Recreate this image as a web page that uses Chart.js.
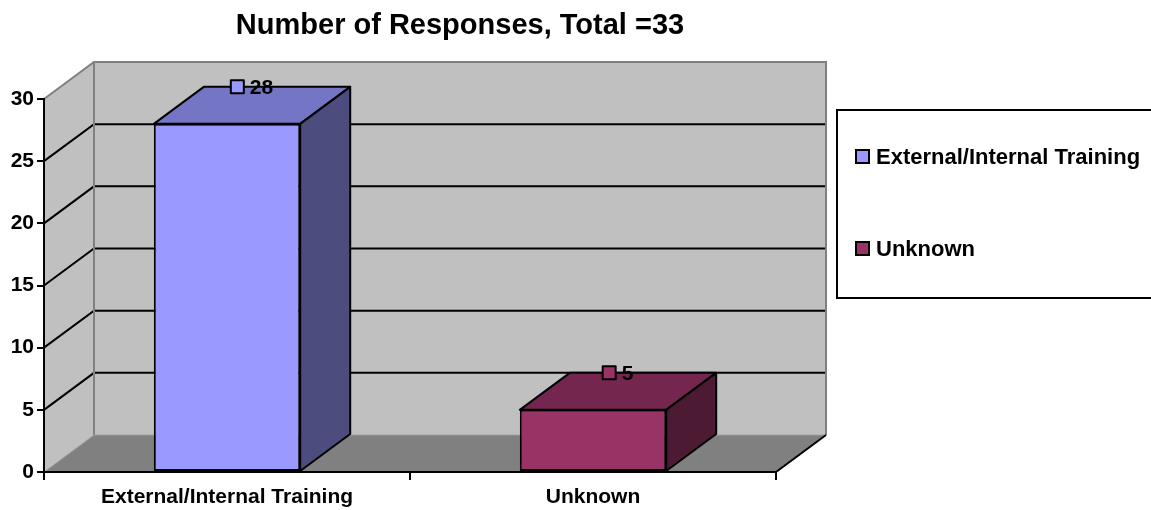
<!DOCTYPE html>
<html>
<head>
<meta charset="utf-8">
<script src="https://cdn.jsdelivr.net/npm/chart.js@4.4.1/dist/chart.umd.min.js"></script>
<style>
html, body { margin: 0; padding: 0; background: #fff; }
#wrap { width: 1151px; height: 510px; position: relative; }
</style>
</head>
<body>
<div id="wrap"><canvas id="responsesChart"></canvas></div>
<script>
const categories = ['External/Internal Training', 'Unknown'];
const responses = [28, 5];
const yTicks = [0, 5, 10, 15, 20, 25, 30];
const chartTitle = 'Number of Responses, Total =33';

const frontColors = ['#9999ff', '#993366'];
const topColors = ['#7575c5', '#74264f'];
const sideColors = ['#4c4c7f', '#4d1a33'];

// offset of the back plane, gives the 3D look
const DEPTH_X = 50;
const DEPTH_Y = -37;
const FONT = "'Liberation Sans', Arial, sans-serif";

function poly(ctx, pts, fill, stroke)
{
    ctx.beginPath();
    ctx.moveTo(pts[0][0], pts[0][1]);
    for (let i = 1; i < pts.length; i++) ctx.lineTo(pts[i][0], pts[i][1]);
    ctx.closePath();
    ctx.fillStyle = fill;
    ctx.fill();
    if (stroke) ctx.stroke();
}

const walls3d = {
    id: 'walls3d',
    beforeDraw(chart)
    {
        const { ctx, chartArea: a, scales: { y } } = chart;
        const bl = a.left + DEPTH_X, bt = a.top + DEPTH_Y;
        const br = a.right + DEPTH_X, bb = a.bottom + DEPTH_Y;
        ctx.save();

        // back wall, side wall, floor
        ctx.fillStyle = '#c0c0c0';
        ctx.fillRect(bl, bt, br - bl, bb - bt);
        poly(ctx, [[a.left, a.top], [bl, bt], [bl, bb], [a.left, a.bottom]], '#c0c0c0');
        poly(ctx, [[a.left, a.bottom], [a.right, a.bottom], [br, bb], [bl, bb]], '#808080');

        // gridlines run along the side wall and across the back wall
        ctx.strokeStyle = '#000';
        ctx.lineWidth = 2;
        yTicks.forEach(v =>
        {
            if (v === y.min || v === y.max) return;
            const py = y.getPixelForValue(v);
            ctx.beginPath();
            ctx.moveTo(a.left, py);
            ctx.lineTo(bl, py + DEPTH_Y);
            ctx.lineTo(br, py + DEPTH_Y);
            ctx.stroke();
        });

        // wall edges
        ctx.strokeStyle = '#808080';
        ctx.beginPath();
        ctx.moveTo(a.left, a.top);
        ctx.lineTo(bl, bt);
        ctx.lineTo(br, bt);
        ctx.lineTo(br, bb);
        ctx.moveTo(bl, bt);
        ctx.lineTo(bl, bb);
        ctx.stroke();

        ctx.strokeStyle = '#a0a0a0';
        ctx.lineWidth = 1;
        ctx.beginPath();
        ctx.moveTo(a.left, a.bottom);
        ctx.lineTo(bl, bb);
        ctx.lineTo(br, bb);
        ctx.stroke();

        ctx.strokeStyle = '#000';
        ctx.lineWidth = 2;
        ctx.beginPath();
        ctx.moveTo(a.right, a.bottom);
        ctx.lineTo(br, bb);
        ctx.stroke();

        // title
        ctx.fillStyle = '#000';
        ctx.font = 'bold 29px ' + FONT;
        ctx.textAlign = 'center';
        ctx.textBaseline = 'middle';
        ctx.fillText(chartTitle, 460, 26);

        ctx.restore();
    },
    afterDatasetsDraw(chart)
    {
        const { ctx } = chart;
        const meta = chart.getDatasetMeta(0);
        ctx.save();
        ctx.lineWidth = 2;
        ctx.strokeStyle = '#000';
        ctx.lineJoin = 'round';
        meta.data.forEach((bar, i) =>
        {
            const { x, y, base, width } = bar.getProps(['x', 'y', 'base', 'width'], true);
            const l = x - width / 2, r = x + width / 2;
            poly(ctx, [[l, y], [l + DEPTH_X, y + DEPTH_Y], [r + DEPTH_X, y + DEPTH_Y], [r, y]], topColors[i], true);
            poly(ctx, [[r, y], [r + DEPTH_X, y + DEPTH_Y], [r + DEPTH_X, base + DEPTH_Y], [r, base]], sideColors[i], true);

            // value label with its little marker, sitting on the back edge of the top
            const text = String(responses[i]);
            ctx.font = 'bold 21px ' + FONT;
            const tw = ctx.measureText(text).width;
            const box = 13, gap = 6;
            const cx = x + DEPTH_X / 2;
            const cy = y + DEPTH_Y;
            const start = cx - (box + gap + tw) / 2;
            ctx.fillStyle = frontColors[i];
            ctx.fillRect(start, cy - box / 2, box, box);
            ctx.strokeRect(start, cy - box / 2, box, box);
            ctx.fillStyle = '#000';
            ctx.textAlign = 'left';
            ctx.textBaseline = 'middle';
            ctx.fillText(text, start + box + gap, cy + 1);
        });
        ctx.restore();
    },
    afterDraw(chart)
    {
        const { ctx } = chart;
        ctx.save();
        ctx.lineWidth = 2;
        ctx.strokeStyle = '#000';
        ctx.strokeRect(837, 110, 320, 188);
        ctx.font = 'bold 22px ' + FONT;
        ctx.textAlign = 'left';
        ctx.textBaseline = 'middle';
        const rows = [157, 249];
        categories.forEach((name, i) =>
        {
            const ry = rows[i];
            ctx.fillStyle = frontColors[i];
            ctx.fillRect(856, ry - 7, 13, 13);
            ctx.strokeRect(856, ry - 7, 13, 13);
            ctx.fillStyle = '#000';
            ctx.fillText(name, 876, ry + 1);
        });
        ctx.restore();
    }
};

new Chart(document.getElementById('responsesChart'), {
    type: 'bar',
    data: {
        labels: categories,
        datasets: [
            {
                data: responses,
                backgroundColor: frontColors,
                borderColor: '#000',
                borderWidth: 2,
                borderSkipped: false,
                categoryPercentage: 1,
                barPercentage: 0.4,
            },
        ]
    },
    options: {
        responsive: true,
        maintainAspectRatio: false,
        animation: false,
        layout: {
            padding: { top: 99, right: 375, left: 0, bottom: 0 }
        },
        plugins: {
            legend: { display: false },
            tooltip: { enabled: false },
            title: { display: false }
        },
        scales: {
            x: {
                grid: { offset: true, drawOnChartArea: false, tickLength: 8, color: '#000', lineWidth: 2 },
                border: { color: '#000', width: 2 },
                ticks: {
                    color: '#000',
                    padding: 5,
                    font: { family: FONT, size: 21, weight: 'bold' }
                },
                afterFit: s => { s.height = 38; }
            },
            y: {
                min: yTicks[0],
                max: yTicks[yTicks.length - 1],
                ticks: {
                    stepSize: yTicks[1] - yTicks[0],
                    color: '#000',
                    padding: 3,
                    font: { family: FONT, size: 21, weight: 'bold' }
                },
                grid: { drawOnChartArea: false, tickLength: 7, color: '#000', lineWidth: 2 },
                border: { color: '#000', width: 2 },
                afterFit: s => { s.width = 44; }
            }
        }
    },
    plugins: [walls3d]
});
</script>
</body>
</html>
